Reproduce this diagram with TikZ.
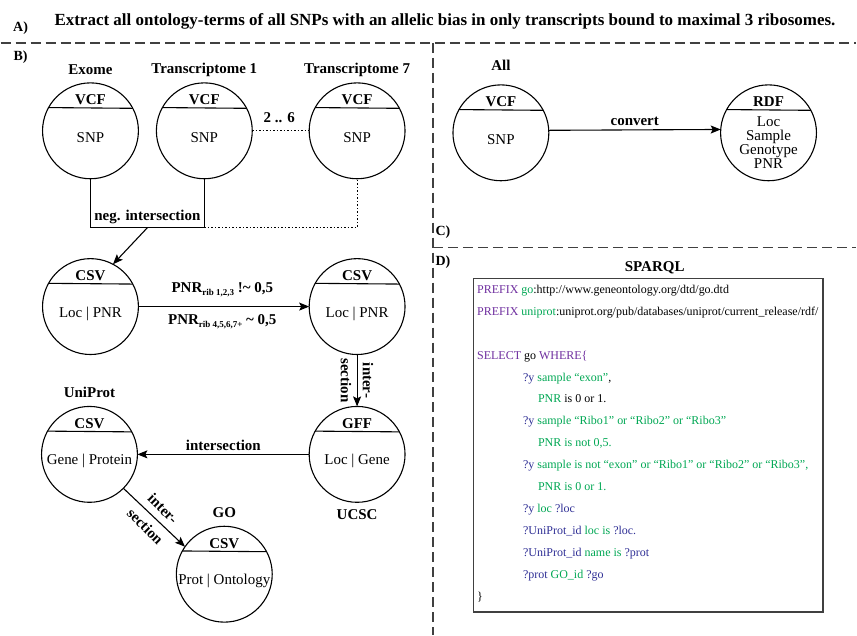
\documentclass[tikz,border=0pt]{standalone}
\usepackage{fontspec}
\setmainfont{Liberation Serif}
\usetikzlibrary{positioning,calc,arrows.meta}

\definecolor{MYpurple}{RGB}{112,48,160}
\definecolor{MYgreen}{RGB}{0,168,84}
\definecolor{MYblue}{RGB}{48,48,150}
\definecolor{MYgray}{RGB}{64,64,64}

\newcommand\MYleft{151.4}
\newcommand\MYright{28.6}
\newcommand\MYsub[1]{\raisebox{-3.5pt}{\fontsize{9}{10}\selectfont #1}}
\newcommand\MYrecord[5]{%
 \node[record] (#1) at (#2) {};
 \draw[plainline] (#1.\MYleft) -- (#1.\MYright);
 \node[headtext] (#1head) at ($(#1.center)+(0,-31)$) {#3};
 \node[bodytext] (#1body) at ($(#1.center)+(0,#5)$) {#4};
}

\begin{document}
\begin{tikzpicture}[x=1pt,y=-1pt,
 record/.style={circle,draw,line width=1.1pt,minimum size=96pt,inner sep=0pt,outer sep=0pt},
 plainline/.style={line width=1.1pt},
 headtext/.style={font=\fontsize{15}{17}\selectfont\bfseries,inner sep=0pt},
 bodytext/.style={font=\fontsize{15}{14}\selectfont,align=center,inner sep=0pt},
 tag/.style={font=\fontsize{15}{17}\selectfont\bfseries},
 panel/.style={font=\fontsize{14}{16}\selectfont\bfseries,inner sep=0pt},
 flow/.style={line width=1.1pt,-{Stealth[length=10pt,width=8pt,inset=2pt]}},
 dotline/.style={line width=1.1pt,dash pattern=on 1.5pt off 2pt},
 separator/.style={line width=1.2pt,MYgray,dash pattern=on 10pt off 5pt},
 sparqlbox/.style={draw=MYgray,line width=1.5pt,minimum width=350pt,minimum height=334pt,inner sep=0pt},
 sqltext/.style={font=\fontsize{12}{22}\selectfont,align=left,anchor=north west,inner sep=0pt}]

\fill[white] (0,0) rectangle (857,636);

\coordinate (SL) at (0,43);
\coordinate (SR) at (857,43);
\coordinate (VT) at (433,43);
\coordinate (VB) at (433,636);
\coordinate (HL) at (433,248);
\coordinate (HR) at (857,248);

\coordinate (EX) at (90,131);
\coordinate (T1) at (204,131);
\coordinate (T7) at (357,131);
\coordinate (CA) at (90,307);
\coordinate (CB) at (357,307);
\coordinate (GF) at (357,455);
\coordinate (UP) at (89,455);
\coordinate (GO) at (224,575);
\coordinate (AL) at (501,133);
\coordinate (RD) at (769,133);

\coordinate (NL) at (90,228);
\coordinate (NM) at (147,228);
\coordinate (NR) at (204,228);
\coordinate (NF) at (357,228);

 \draw[separator] (SL) -- (SR);
 \draw[separator] (VT) -- (VB);
 \draw[separator] (HL) -- (HR);

\node[tag,font=\fontsize{17}{19}\selectfont\bfseries] (question) at (445,21) {Extract all ontology-terms of all SNPs with an allelic bias in only transcripts bound to maximal 3 ribosomes.};
\node[panel] (panelA) at (20,28) {A)};
\node[panel] (panelB) at (20,57) {B)};
\node[panel] (panelC) at (443,232) {C)};
\node[panel] (panelD) at (443,263) {D)};

\MYrecord{exome}{EX}{VCF}{SNP}{7}
\MYrecord{trans1}{T1}{VCF}{SNP}{7}
\MYrecord{trans7}{T7}{VCF}{SNP}{7}
\MYrecord{csvA}{CA}{CSV}{Loc | PNR}{7}
\MYrecord{csvB}{CB}{CSV}{Loc | PNR}{7}
\MYrecord{gff}{GF}{GFF}{Loc | Gene}{7}
\MYrecord{uniprot}{UP}{CSV}{Gene | Protein}{7}
\MYrecord{go}{GO}{CSV}{Prot | Ontology}{7}
\MYrecord{allvcf}{AL}{VCF}{SNP}{7}
\MYrecord{rdf}{RD}{RDF}{Loc\\Sample\\Genotype\\PNR}{10}

\node[tag] (exomename) at (90,70) {Exome};
\node[tag] (trans1name) at (204,70) {Transcriptome 1};
\node[tag] (trans7name) at (357,70) {Transcriptome 7};
\node[tag] (uniprotname) at (89,393) {UniProt};
\node[tag] (gffname) at (357,515) {UCSC};
\node[tag] (goname) at (224,513) {GO};
\node[tag] (allname) at (501,65) {All};

 \draw[dotline] (trans1) -- (trans7);
\node[tag] (range) at (279,118) {2 .. 6};

 \draw[plainline] (exome) -- (NL) -- (NR) -- (trans1);
 \draw[dotline] (NR) -- (NF) -- (trans7);
\node[tag,above] (neglabel) at (NM) {neg. intersection};
 \draw[flow] (NM) -- (csvA.62);

 \draw[flow] (csvA) -- (csvB);
\node[tag] (biasfree) at (222,290) {PNR\MYsub{rib 1,2,3} !\textasciitilde{} 0,5};
\node[tag] (biashalf) at (222,322) {PNR\MYsub{rib 4,5,6,7+} \textasciitilde{} 0,5};

 \draw[flow] (csvB) -- (gff) node[midway,tag,rotate=-90,align=center] (locjoin) {inter-\\[5pt]section};
 \draw[flow] (gff) -- (uniprot) node[midway,above,tag] (genejoin) {intersection};
 \draw[flow] (uniprot.-45) -- (go.145) node[midway,tag,rotate=-45,align=center] (protjoin) {inter-\\[8pt]section};

 \draw[flow] (allvcf.3.5) -- (rdf.176.5) node[midway,above,tag] (convertlabel) {convert};

\node[tag] (sparqlname) at (655,268) {SPARQL};
\node[sparqlbox,anchor=north west] (query) at (473,278) {};
\node[sqltext] (querytext) at (477,285) {%
{\color{MYpurple}PREFIX} {\color{MYgreen}go}:http://www.geneontology.org/dtd/go.dtd\\
{\color{MYpurple}PREFIX} {\color{MYgreen}uniprot}:uniprot.org/pub/databases/uniprot/current\_release/rdf/\\[22pt]
{\color{MYpurple}SELECT} go {\color{MYpurple}WHERE\{}\\
\hspace*{46pt}{\color{MYblue}?y} {\color{MYgreen}sample “exon”},\\
\hspace*{61pt}{\color{MYgreen}PNR} is 0 or 1.\\
\hspace*{46pt}{\color{MYblue}?y} {\color{MYgreen}sample “Ribo1” or “Ribo2” or “Ribo3”}\\
\hspace*{61pt}{\color{MYgreen}PNR is not 0,5.}\\
\hspace*{46pt}{\color{MYblue}?y} {\color{MYgreen}sample is not “exon” or “Ribo1” or “Ribo2” or “Ribo3”,}\\
\hspace*{61pt}{\color{MYgreen}PNR is 0 or 1.}\\
\hspace*{46pt}{\color{MYblue}?y} {\color{MYgreen}loc} {\color{MYblue}?loc}\\
\hspace*{46pt}{\color{MYblue}?UniProt\_id} {\color{MYgreen}loc is} {\color{MYblue}?loc.}\\
\hspace*{46pt}{\color{MYblue}?UniProt\_id} {\color{MYgreen}name is} {\color{MYblue}?prot}\\
\hspace*{46pt}{\color{MYblue}?prot} {\color{MYgreen}GO\_id} {\color{MYblue}?go}\\
\}};

\end{tikzpicture}
\end{document}
